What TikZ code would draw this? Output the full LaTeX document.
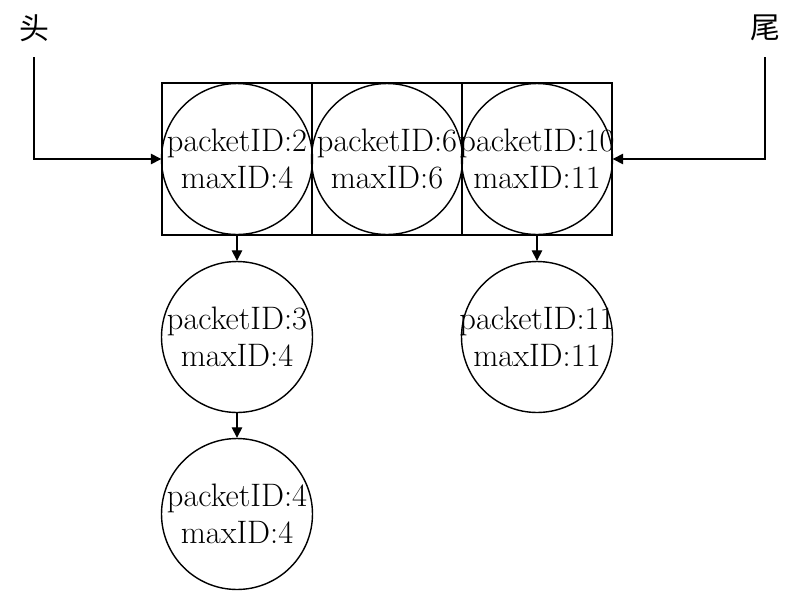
\documentclass[tikz,border=0pt]{standalone}
\usepackage{fontspec}
\newfontfamily\cjk{Noto Sans CJK SC}
\usetikzlibrary{arrows.meta}

\tikzset{
    cell/.style={draw, line width=0.8pt, minimum width=3cm, minimum height=3.04cm, inner sep=0pt},
    pkt/.style={draw, circle, line width=0.8pt, minimum size=3.02cm, inner sep=-14pt, align=center,
                font=\fontsize{18.5}{21}\selectfont},
    link/.style={line width=0.8pt, -{Triangle[length=6pt,width=6pt]}},
    endlabel/.style={font=\cjk\fontsize{17}{17}\selectfont, inner sep=0pt}
}

\begin{document}
\begin{tikzpicture}[x=0.02cm, y=-0.02cm]
            \useasboundingbox (0,0) rectangle (789,593);

            % queue cells
            \node[cell] (c1) at (237,159) {};
            \node[cell] (c2) at (387,159) {};
            \node[cell] (c3) at (537,159) {};

            % packets
            \node[pkt] (p2) at (237,159) {packetID:2\\maxID:4};
            \node[pkt] (p6) at (387,159) {packetID:6\\maxID:6};
            \node[pkt] (p10) at (537,159) {packetID:10\\maxID:11};
            \node[pkt] (p3) at (237,337) {packetID:3\\maxID:4};
            \node[pkt] (p4) at (237,514) {packetID:4\\maxID:4};
            \node[pkt] (p11) at (537,337) {packetID:11\\maxID:11};

            % head and tail
            \node[endlabel] (head) at (34,28) {头};
            \node[endlabel] (tail) at (765,28) {尾};
            \coordinate (headtop) at (34,57);
            \coordinate (tailtop) at (765,57);

            \draw[link] (headtop) |- (c1.west); % head
            \draw[link] (tailtop) |- (c3.east); % tail
            \draw[link] (c1.south) -- (p3.north); % 2-3
            \draw[link] (p3.south) -- (p4.north); % 3-4
            \draw[link] (c3.south) -- (p11.north); % 10-11
        \end{tikzpicture}
\end{document}
